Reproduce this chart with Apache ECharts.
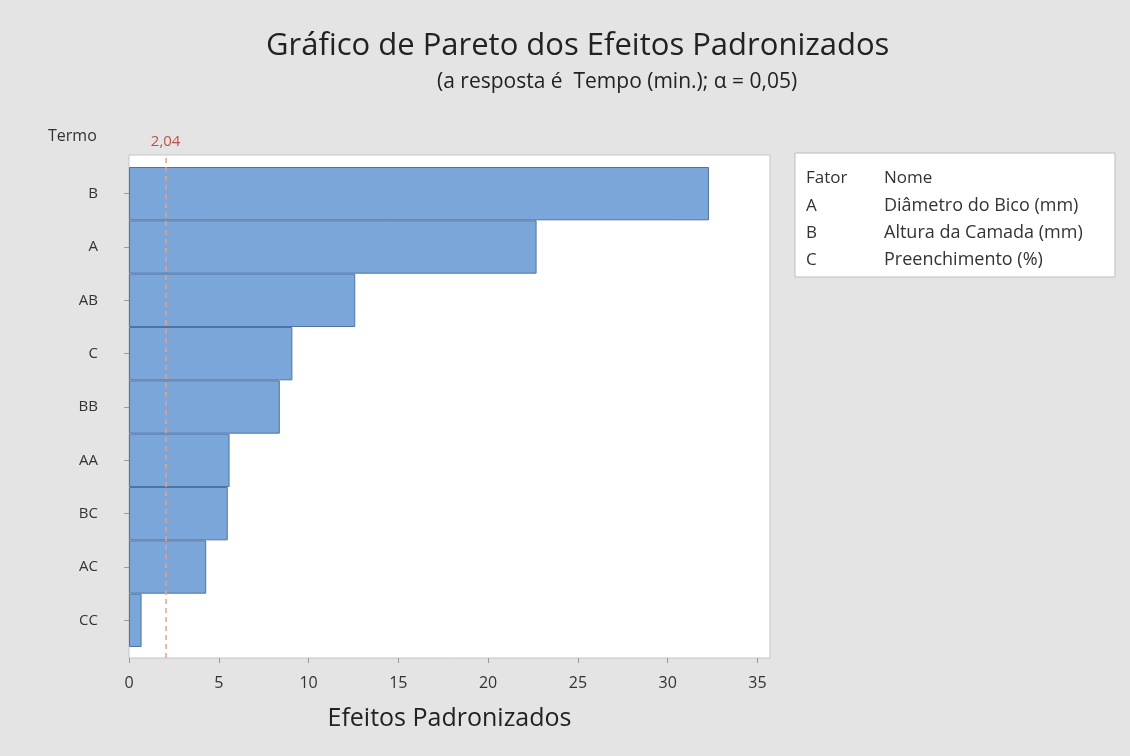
<!DOCTYPE html>
<html>
<head>
<meta charset="utf-8">
<script src="https://cdn.jsdelivr.net/npm/echarts@6/dist/echarts.min.js"></script>
<style>
html,body{margin:0;padding:0;background:#e4e4e4;}
#chart{width:1130px;height:756px;}
</style>
</head>
<body>
<div id="chart"></div>
<script>
var terms = ['B', 'A', 'AB', 'C', 'BB', 'AA', 'BC', 'AC', 'CC'];
var effects = [32.3, 22.7, 12.6, 9.1, 8.4, 5.6, 5.5, 4.3, 0.7];
var critical = 2.04;
var criticalLabel = '2,04';
var xTicks = [0, 5, 10, 15, 20, 25, 30, 35];
var legendFactors = ['A', 'B', 'C'];
var legendNames = ['Diâmetro do Bico (mm)', 'Altura da Camada (mm)', 'Preenchimento (%)'];

var FONT = '"Open Sans", "Noto Sans", sans-serif';
var chart = echarts.init(document.getElementById('chart'));

var legendChildren = [
  {type: 'rect', shape: {x: 795, y: 153, width: 320, height: 124},
   style: {fill: '#ffffff', stroke: '#bdbdbd', lineWidth: 1}},
  {type: 'text', x: 806, y: 178, style: {text: 'Fator', font: '17px ' + FONT, fill: '#333', verticalAlign: 'middle'}},
  {type: 'text', x: 884, y: 178, style: {text: 'Nome', font: '17px ' + FONT, fill: '#333', verticalAlign: 'middle'}}
];
legendFactors.forEach(function (f, i) {
  legendChildren.push({type: 'text', x: 806, y: 206 + i * 27,
    style: {text: f, font: '17px ' + FONT, fill: '#333', verticalAlign: 'middle'}});
  legendChildren.push({type: 'text', x: 884, y: 206 + i * 27,
    style: {text: legendNames[i], font: '18px ' + FONT, fill: '#333', verticalAlign: 'middle'}});
});

var option = {
  backgroundColor: '#e4e4e4',
  animation: false,
  textStyle: {fontFamily: FONT},
  title: [
    {text: 'Gráfico de Pareto dos Efeitos Padronizados', left: 261, top: 26,
     textStyle: {fontSize: 31, fontWeight: 'normal', color: '#222', fontFamily: FONT}},
    {text: '(a resposta é  Tempo (min.); α = 0,05)', left: 432, top: 67,
     textStyle: {fontSize: 21, fontWeight: 'normal', color: '#222', fontFamily: FONT}},
    {text: 'Termo', left: 43, top: 123,
     textStyle: {fontSize: 16, fontWeight: 'normal', color: '#333', fontFamily: FONT}}
  ],
  graphic: [{type: 'group', children: legendChildren}],
  grid: [
    {left: 129, right: 360, top: 155, bottom: 98, show: true, backgroundColor: '#ffffff',
     borderColor: '#c4c4c4', borderWidth: 1},
    {left: 129, right: 360, top: 167, bottom: 109}
  ],
  xAxis: [
    {type: 'value', gridIndex: 0, min: 0, max: 35.7, interval: 5,
     name: 'Efeitos Padronizados', nameLocation: 'middle', nameGap: 48,
     nameTextStyle: {fontSize: 25, color: '#222', fontFamily: FONT},
     axisLine: {show: false},
     axisTick: {show: true, length: 5, lineStyle: {color: '#9a9a9a'}},
     splitLine: {show: false},
     axisLabel: {fontSize: 16, color: '#333', margin: 17, showMaxLabel: false,
       formatter: function (v) { return xTicks.indexOf(v) >= 0 ? String(v) : ''; }}},
    {type: 'value', gridIndex: 1, min: 0, max: 35.7, show: false}
  ],
  yAxis: [
    {type: 'value', gridIndex: 0, min: 0, max: 1, show: false},
    {type: 'category', gridIndex: 1, data: terms, inverse: true,
     axisLine: {show: false},
     axisTick: {show: true, alignWithLabel: true, length: 5, lineStyle: {color: '#9a9a9a'}},
     axisLabel: {fontSize: 15, color: '#333', margin: 31}}
  ],
  series: [
    {type: 'line', xAxisIndex: 0, yAxisIndex: 0, data: [], z: 1, silent: true,
     markLine: {
       symbol: 'none', silent: true,
       lineStyle: {color: '#f0a07a', type: [5, 4], width: 1.5},
       label: {show: true, position: 'end', formatter: criticalLabel, color: '#c0504d', fontSize: 15, distance: 6},
       data: [{xAxis: critical}]
     }},
    {type: 'bar', xAxisIndex: 1, yAxisIndex: 1, data: effects, barCategoryGap: 0, z: 3,
     itemStyle: {color: '#7ba6da', borderColor: '#4f73a3', borderWidth: 1}}
  ]
};
chart.setOption(option);
</script>
</body>
</html>
